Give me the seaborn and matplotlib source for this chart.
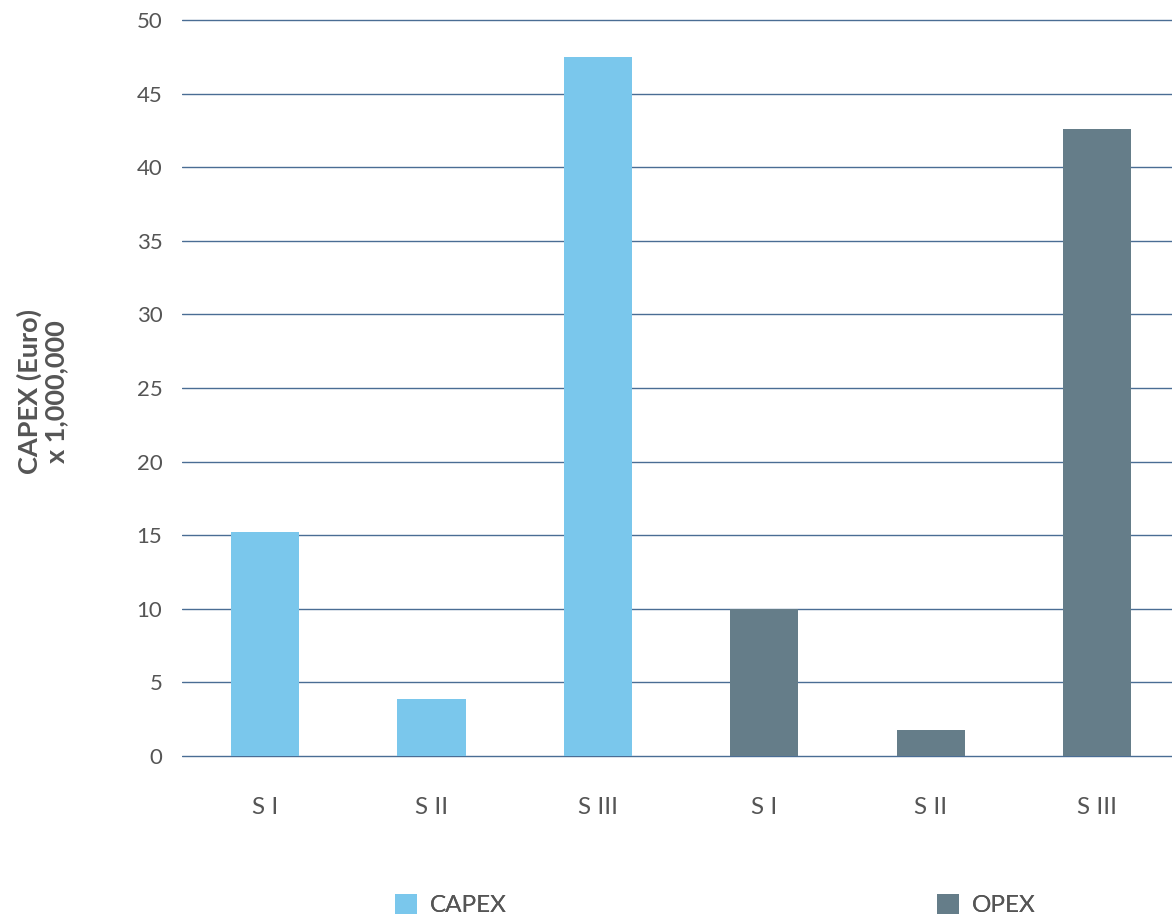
import matplotlib
matplotlib.use("Agg")
import matplotlib.pyplot as plt
import seaborn as sns
import pandas as pd
from matplotlib.patches import Patch

# ---- data ----
groups = ["CAPEX", "CAPEX", "CAPEX", "OPEX", "OPEX", "OPEX"]
scenarios = ["S I", "S II", "S III", "S I", "S II", "S III"]
values = [15.2, 3.9, 47.5, 10.0, 1.8, 42.6]
yticks = [0, 5, 10, 15, 20, 25, 30, 35, 40, 45, 50]
colors = {"CAPEX": "#7AC7EC", "OPEX": "#657D89"}

sns.set_theme(style="white")
plt.rcParams["font.family"] = ["Lato", "DejaVu Sans"]

df = pd.DataFrame({
    "key": [f"{g} {s}" for g, s in zip(groups, scenarios)],
    "group": groups,
    "scenario": scenarios,
    "value": values,
})

W, H = 1172, 916
fig = plt.figure(figsize=(W / 100, H / 100), dpi=100)
pad_units = 0.15
ppu = 736 / 50
left = 181.8 / W
bottom = (H - 756 - pad_units * ppu) / H
ax = fig.add_axes([left, bottom, (1172 - 181.8) / W, (736 + 2 * pad_units * ppu) / H])

sns.barplot(data=df, x="key", y="value", hue="group", palette=colors,
            dodge=False, width=0.41, ax=ax, legend=False, zorder=3,
            saturation=1, linewidth=0, edgecolor="none")

ax.set_xlim(-0.5, 5.45)
ax.set_ylim(-pad_units, 50 + pad_units)
ax.set_yticks(yticks)
ax.set_xticks(range(len(scenarios)))
ax.set_xticklabels(scenarios)
ax.set_xlabel("")
ax.grid(axis="y", color="#4a6d94", linewidth=1.0, zorder=0)
ax.grid(axis="x", visible=False)
ax.set_axisbelow(True)
for sp in ax.spines.values():
    sp.set_visible(False)
ax.tick_params(axis="y", length=0, pad=14, labelsize=16, labelcolor="#555555")
ax.tick_params(axis="x", length=0, pad=28, labelsize=17.5, labelcolor="#555555")

ax.set_ylabel("CAPEX (Euro)\nx 1,000,000", fontsize=19.5, fontweight="bold",
              color="#555555", multialignment="center", linespacing=1.1)
ax.yaxis.set_label_coords((68 - 181.8) / (1172 - 181.8), (756 - 392 + pad_units * ppu) / (736 + 2 * pad_units * ppu))

for g, xpix in [("CAPEX", 395), ("OPEX", 937)]:
    leg = fig.legend(handles=[Patch(facecolor=colors[g], edgecolor="none", label=g)],
                     loc="center left", bbox_to_anchor=(xpix / W, 1 - 905 / H),
                     frameon=False, fontsize=17.5, handlelength=0.9,
                     handleheight=0.9, handletextpad=0.55, borderpad=0,
                     borderaxespad=0)
    for t in leg.get_texts():
        t.set_color("#555555")
    fig.add_artist(leg)

fig.savefig("out.png", dpi=100)
